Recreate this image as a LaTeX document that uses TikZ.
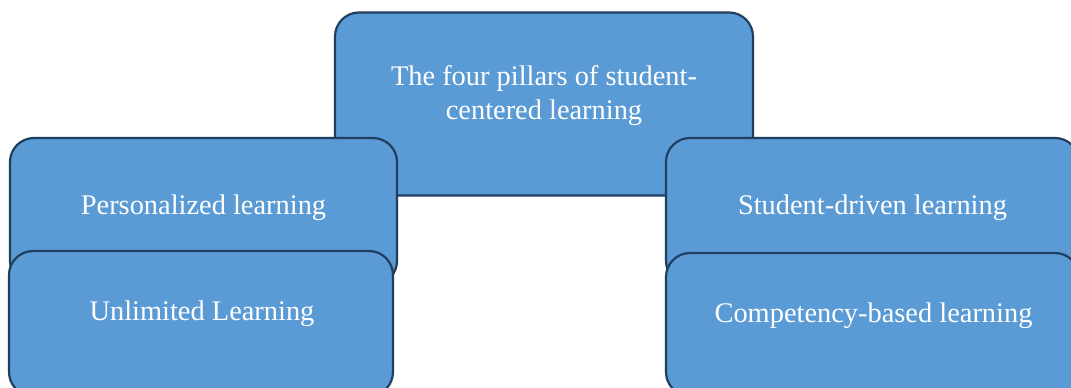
\documentclass[tikz,border=0pt]{standalone}
\usepackage{fontspec}
\setmainfont{Liberation Serif}
\definecolor{pillarfill}{HTML}{5B9BD5}
\definecolor{pillarline}{HTML}{1F3F60}
\begin{document}
\begin{tikzpicture}[x=1pt,y=-1pt,
  pillar/.style={draw=pillarline, line width=2.2pt, fill=pillarfill,
    rounded corners=24pt, inner sep=0pt},
  label/.style={text=white, font=\fontsize{28.4}{34}\selectfont, inner sep=0pt, anchor=base, align=center}]
  \useasboundingbox (0,0) rectangle (1071,388);
  \clip (0,0) rectangle (1071,388);
  \fill[white] (0,0) rectangle (1071,388);
  % central heading box and the four pillars, back to front
  \node[pillar, minimum width=418pt, minimum height=183pt] (top) at (544,104) {};
  \node[pillar, minimum width=387pt, minimum height=147pt] (pers) at (203.5,211.5) {};
  \node[pillar, minimum width=413pt, minimum height=147pt] (stud) at (872.5,211.5) {};
  \node[pillar, minimum width=384pt, minimum height=145pt] (unlim) at (201,323.5) {};
  \node[pillar, minimum width=413pt, minimum height=143pt] (comp) at (872.5,324.5) {};
  % texts (a multi-line label sits on the baseline of its last line)
  \node[label] (toptext) at (544,119) {The four pillars of student-\\centered learning};
  \node[label] (perstext) at (203.5,214) {Personalized learning};
  \node[label] (studtext) at (872.5,214) {Student-driven learning};
  \node[label] (unlimtext) at (202,320) {Unlimited Learning};
  \node[label] (comptext) at (873.5,322) {Competency-based learning};
\end{tikzpicture}
\end{document}
